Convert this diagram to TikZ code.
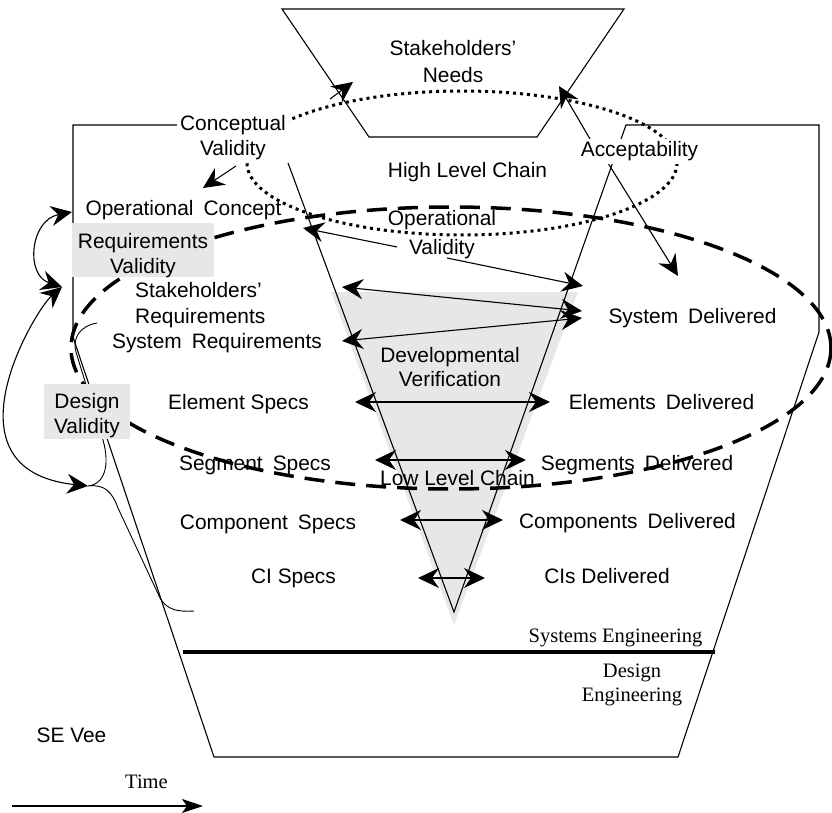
\documentclass[tikz,border=0pt]{standalone}
\usepackage{fontspec}
\setmainfont{Liberation Sans}
\newfontfamily\timesface{Liberation Serif}
\usetikzlibrary{arrows.meta}
\newcommand\wgap{\hspace{10pt}}
\definecolor{panelgrey}{HTML}{E6E7E8}

\begin{document}
\begin{tikzpicture}[x=1pt,y=-1pt,
  >={Stealth[length=21pt,width=20pt,inset=7pt]},
  outline/.style={line width=1.1pt},
  conn/.style={line width=1.1pt,->},
  bicon/.style={line width=1.1pt,<->},
  link/.style={line width=1.9pt,<->},
  lbl/.style={font=\fontsize{20.9}{25}\selectfont,inner sep=0pt,anchor=base},
  mlbl/.style={font=\fontsize{20.9}{25}\selectfont,inner sep=0pt,anchor=north,align=center},
  slbl/.style={font=\timesface\fontsize{20.5}{24}\selectfont,inner sep=0pt,anchor=base},
  gbox/.style={fill=panelgrey,draw=none,inner sep=0pt},
  chainhigh/.style={line width=3pt,dash pattern=on 3pt off 4pt},
  chainlow/.style={line width=3.5pt,dash pattern=on 20pt off 11pt},
]
\useasboundingbox (0,0) rectangle (832,813);

% shaded verification wedge
\fill[panelgrey] (331,292) -- (578,292) -- (454,625) -- cycle;

% outer Vee outline and the stakeholders' needs box
\draw[outline] (73,125) -- (274,125) -- (454,612) -- (626,125) -- (819,125)
  -- (819,332) -- (678,757) -- (214,757) -- (73,337) -- cycle;
\draw[outline] (282,9) -- (624,9) -- (537,137) -- (369,137) -- cycle;

% high and low level chains
\draw[chainlow] (451,348) ellipse [x radius=380, y radius=141];
\draw[chainhigh] (462,163) ellipse [x radius=215, y radius=72];

% design validity brace
\draw[line width=0.9pt] (97,323) .. controls (80,326) and (72,338) .. (76,352)
  -- (103,440) .. controls (110,465) and (105,484) .. (88,486)
  .. controls (105,484) and (112,492) .. (118,508)
  -- (160,598) .. controls (167,610) and (178,612) .. (194,611);

% systems / design engineering divider
\draw[line width=4pt] (183,652) -- (715,652);

% connector end points
\coordinate (cvTail) at (236,166);   \coordinate (ocTip) at (203,188);
\coordinate (hcTail) at (330,99);    \coordinate (snLeft) at (353,82);
\coordinate (acUp) at (590,139);     \coordinate (snRight) at (559,86);
\coordinate (acDown) at (608,163);   \coordinate (sdTip) at (678,276);
\coordinate (ovL) at (397,247);      \coordinate (ovLtip) at (303,228);
\coordinate (ovR) at (447,258);      \coordinate (ovRtip) at (583,286);
\coordinate (skL) at (342,287);      \coordinate (skR) at (582,311);
\coordinate (srL) at (342,341);      \coordinate (srR) at (582,318);
\coordinate (elL) at (355,402);      \coordinate (elR) at (550,402);
\coordinate (sgL) at (375,460);      \coordinate (sgR) at (526,460);
\coordinate (cpL) at (400,520);      \coordinate (cpR) at (503,520);
\coordinate (ciL) at (418,578);      \coordinate (ciR) at (485,578);
\coordinate (opEdge) at (72,212);    \coordinate (rqEdge) at (62,287);
\coordinate (dsEdge) at (88,486);
\coordinate (timeTail) at (12,806);  \coordinate (timeTip) at (203,806);

% validation and verification links
\draw[conn] (cvTail) -- (ocTip);
\draw[conn] (hcTail) -- (snLeft);
\draw[conn] (acUp) -- (snRight);
\draw[conn] (acDown) -- (sdTip);
\draw[conn] (ovL) -- (ovLtip);
\draw[conn] (ovR) -- (ovRtip);
\draw[bicon] (skL) -- (skR);
\draw[bicon] (srL) -- (srR);
\draw[link] (elL) -- (elR);
\draw[link] (sgL) -- (sgR);
\draw[link] (cpL) -- (cpR);
\draw[bicon] (ciL) -- (ciR);
\draw[bicon] (opEdge) .. controls (30,220) and (25,275) .. (rqEdge);
\draw[bicon] (rqEdge) .. controls (35,310) and (-61,470) .. (dsEdge);
\draw[line width=1.3pt,-{Stealth[length=21pt,width=14pt,inset=5pt]}] (timeTail) -- (timeTip);

% grey validity panels
\node[gbox,minimum width=142pt,minimum height=54pt] (rvbox) at (143,250) {};
\node[gbox,minimum width=86pt,minimum height=55pt] (dvbox) at (87,411.5) {};

% labels
\node[mlbl,font=\fontsize{20.9}{27}\selectfont] (needs) at (453,40) {Stakeholders’\\Needs};
\node[mlbl,fill=white,inner sep=3pt] (cv) at (233,112) {Conceptual\\Validity};
\node[lbl] (opcon) at (183.5,215) {Operational\wgap Concept};
\node[mlbl] (rvtext) at (143,233) {Requirements\\Validity};
\node[mlbl,align=left,anchor=north west,font=\fontsize{20.9}{26}\selectfont] (skreq) at (135,282) {Stakeholders’\\Requirements};
\node[lbl] (sysreq) at (217,348) {System\wgap Requirements};
\node[mlbl] (dvtext) at (87,393) {Design\\Validity};
\node[lbl] (elspec) at (238.5,409) {Element Specs};
\node[lbl] (sgspec) at (255,470) {Segment\wgap Specs};
\node[lbl] (cpspec) at (268,529) {Component\wgap Specs};
\node[lbl] (cispec) at (293.5,583) {CI Specs};
\node[lbl] (hlc) at (467.5,178) {High Level Chain};
\node[mlbl,font=\fontsize{20.9}{29}\selectfont] (ov) at (442,210) {Operational\\Validity};
\node[lbl,fill=white,inner sep=3pt] (acc) at (639.5,157) {Acceptability};
\node[mlbl,font=\fontsize{20.9}{24}\selectfont] (dver) at (450,347) {Developmental\\Verification};
\node[lbl] (llc) at (457.5,485) {Low Level Chain};
\node[lbl] (sysdel) at (692.5,323) {System\wgap Delivered};
\node[lbl] (eldel) at (661.5,409) {Elements\wgap Delivered};
\node[lbl] (sgdel) at (637,470) {Segments\wgap Delivered};
\node[lbl] (cpdel) at (627.5,528) {Components\wgap Delivered};
\node[lbl] (cidel) at (607,583) {CIs Delivered};
\node[slbl] (syseng) at (615.5,642) {Systems Engineering};
\node[slbl,anchor=north,align=center] (deseng) at (632,664) {Design\\Engineering};
\node[lbl] (sevee) at (71.5,742) {SE Vee};
\node[slbl] (time) at (146.5,788) {Time};
\end{tikzpicture}
\end{document}
